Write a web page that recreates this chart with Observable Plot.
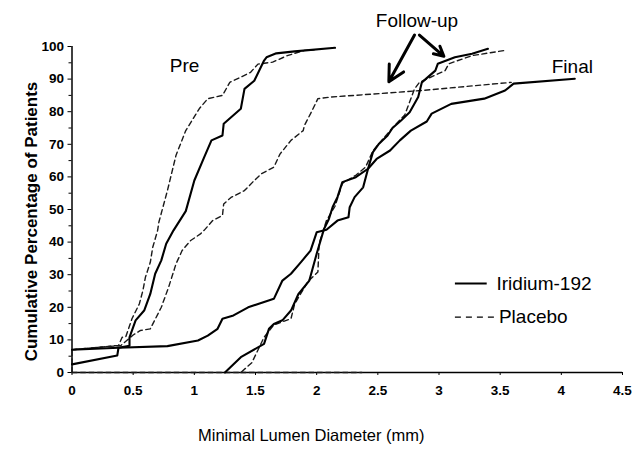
<!DOCTYPE html>
<html>
<head>
<meta charset="utf-8">
<script src="https://cdn.jsdelivr.net/npm/d3@7"></script>
<script src="https://cdn.jsdelivr.net/npm/@observablehq/plot@0.6"></script>
<style>
  html, body { margin: 0; padding: 0; background: #fff; }
  #chart svg { display: block; }
</style>
</head>
<body>
<div id="chart"></div>
<script>
// ---- data (x = minimal lumen diameter in mm, y = cumulative % of patients) ----
const preIridium = [[0,2.5],[0.37,5.2],[0.38,7.6],[0.47,8.2],[0.47,10.8],[0.52,16],[0.59,19],[0.64,24.1],[0.68,30.3],[0.73,34.4],[0.77,39.5],[0.83,43.6],[0.93,49.5],[1.0,58.9],[1.08,66],[1.14,71.2],[1.23,72.7],[1.24,76.3],[1.38,80.9],[1.41,87],[1.49,89.5],[1.57,95.7],[1.59,96.7],[1.67,97.9],[1.82,98.5],[2.15,99.6]];
const prePlacebo = [[0,7],[0.38,8.3],[0.41,10.8],[0.44,11],[0.49,16.5],[0.55,21],[0.58,25.2],[0.60,29.2],[0.64,33.8],[0.66,38.4],[0.70,43.6],[0.71,46.1],[0.78,55.8],[0.85,66.6],[0.93,74.2],[1.04,80.9],[1.11,84],[1.23,85],[1.29,89],[1.38,90.6],[1.46,92.1],[1.52,94.6],[1.64,95.2],[1.76,97.2],[1.90,98.8],[1.98,99]];
const finalIridium = [[1.25,0],[1.38,4.7],[1.57,8.8],[1.61,13.4],[1.65,14.9],[1.72,16],[1.79,19],[1.85,24],[1.94,28.2],[2.0,36.4],[2.06,44],[2.10,47.1],[2.13,50.7],[2.17,53.8],[2.21,58.4],[2.32,59.9],[2.42,62.5],[2.46,67.6],[2.51,70.2],[2.58,72.7],[2.62,75],[2.69,77.3],[2.76,79.8],[2.83,84.5],[2.86,89],[2.97,92.6],[2.99,94.7],[3.13,96.7],[3.27,97.8],[3.40,99.3]];
const finalPlacebo = [[0,0],[1.38,0],[1.47,3],[1.57,10.8],[1.65,14.6],[1.79,16.5],[1.82,21],[1.93,28],[2.01,30.8],[2.02,39.5],[2.08,46.6],[2.15,51],[2.21,58],[2.32,60.5],[2.40,63],[2.46,68],[2.55,72],[2.63,75.5],[2.72,79],[2.80,87],[2.84,89],[3.05,92.6],[3.08,94.7],[3.27,97.2],[3.54,98.8]];
const followIridium = [[0,7],[0.38,7.6],[0.78,8.1],[1.03,9.8],[1.11,11.3],[1.19,13.4],[1.23,16.5],[1.32,17.5],[1.44,20],[1.65,22.6],[1.72,28.2],[1.79,30.3],[1.87,33.8],[1.95,37.4],[2.0,43],[2.08,43.8],[2.17,46.6],[2.26,47.6],[2.27,50.7],[2.31,53.8],[2.38,56.8],[2.42,62.5],[2.49,65.5],[2.60,68.1],[2.68,71.2],[2.77,74.2],[2.90,77],[2.94,79.4],[3.10,82.4],[3.37,84],[3.54,86.5],[3.61,88.6],[4.11,90.1]];
const followPlacebo = [[0,0],[0,7],[0.4,8.3],[0.5,11.5],[0.56,12.9],[0.64,13.4],[0.73,20],[0.79,26.2],[0.85,33.3],[0.90,37.4],[0.97,40.5],[1.05,42.5],[1.08,43.6],[1.15,46.6],[1.23,48.2],[1.24,51.7],[1.30,53.7],[1.41,55.8],[1.49,58.9],[1.55,61],[1.65,63],[1.70,67],[1.79,71.2],[1.89,74.2],[1.90,75.8],[1.95,79.4],[2.01,84],[2.12,84.5],[2.86,86.5],[3.59,89]];
// dotted run along the baseline (0 %) seen in the reference
const baselinePlacebo = [[1.38,0],[2.37,0]];

const xTicks = [0,0.5,1,1.5,2,2.5,3,3.5,4,4.5];
const yTicks = [0,10,20,30,40,50,60,70,80,90,100];
const yMinorTicks = [5,15,25,35,45,55,65,75,85,95];
const xTitle = "Minimal Lumen Diameter (mm)";
const yTitle = "Cumulative Percentage of Patients";

// annotations (data coordinates)
const labels = [
  {text: "Pre", x: 0.92, y: 94.2},
  {text: "Follow-up", x: 2.82, y: 108},
  {text: "Final", x: 4.09, y: 93.6}
];
const arrows = [
  {x1: 2.80, y1: 103.5, x2: 2.59, y2: 89.2},
  {x1: 2.84, y1: 103.5, x2: 3.04, y2: 97.0}
];
const legendItems = [
  {name: "Iridium-192", y: 27.3, x1: 3.13, x2: 3.39, tx: 3.47, dash: null, w: 2},
  {name: "Placebo", y: 17.0, x1: 3.13, x2: 3.45, tx: 3.49, dash: "6,5", w: 1.4}
];

const toRows = (arr) => arr.map(([x, y]) => ({x, y}));
const solidSeries = [preIridium, finalIridium, followIridium];
const dashedSeries = [prePlacebo, finalPlacebo, followPlacebo, baselinePlacebo];

const font = "Liberation Sans, Arial, Helvetica, sans-serif";

const marks = [];
// axes lines
marks.push(Plot.ruleX([0], {y1: 0, y2: 100, stroke: "#000", strokeWidth: 1.5}));
marks.push(Plot.ruleY([0], {x1: 0, x2: 4.5, stroke: "#000", strokeWidth: 1.5}));
marks.push(Plot.axisY({ticks: yTicks, tickSize: 4, tickPadding: 4, fontSize: 13.5, fontWeight: "bold", label: null, stroke: "#000"}));
marks.push(Plot.axisY({ticks: yMinorTicks, tickSize: 3, text: null, label: null}));
marks.push(Plot.axisX({ticks: xTicks, tickSize: 3, tickPadding: 10, fontSize: 13.5, fontWeight: "bold", label: null, tickFormat: d => String(d)}));

for (const s of dashedSeries) {
  marks.push(Plot.line(toRows(s), {x: "x", y: "y", stroke: "#1a1a1a", strokeWidth: 1.4, strokeDasharray: "5,3.5"}));
}
for (const s of solidSeries) {
  marks.push(Plot.line(toRows(s), {x: "x", y: "y", stroke: "#000", strokeWidth: 2.1}));
}
// annotations
marks.push(Plot.text(labels, {x: "x", y: "y", text: "text", fontSize: 19, fill: "#000"}));
marks.push(Plot.arrow(arrows, {x1: "x1", y1: "y1", x2: "x2", y2: "y2", stroke: "#000", strokeWidth: 3, headLength: 13, headAngle: 55}));
// legend
for (const L of legendItems) {
  marks.push(Plot.link([L], {x1: "x1", x2: "x2", y1: "y", y2: "y", stroke: "#000", strokeWidth: L.w, strokeDasharray: L.dash}));
}
marks.push(Plot.text(legendItems, {x: "tx", y: "y", text: "name", textAnchor: "start", fontSize: 19, fill: "#000"}));
// axis titles
marks.push(Plot.text([xTitle], {frameAnchor: "bottom", textAnchor: "middle", dx: -36, dy: 68, fontSize: 16.5, fill: "#000"}));
marks.push(Plot.text([yTitle], {frameAnchor: "left", textAnchor: "middle", rotate: -90, dx: -40, dy: 12, fontSize: 17, fontWeight: "bold", fill: "#000"}));

const chart = Plot.plot({
  width: 634,
  height: 450,
  marginLeft: 71.5,
  marginRight: 12,
  marginTop: 46,
  marginBottom: 78,
  style: {fontFamily: font, color: "#000", background: "#fff", overflow: "visible"},
  x: {domain: [0, 4.5]},
  y: {domain: [0, 100]},
  marks
});
document.getElementById("chart").appendChild(chart);
</script>
</body>
</html>
